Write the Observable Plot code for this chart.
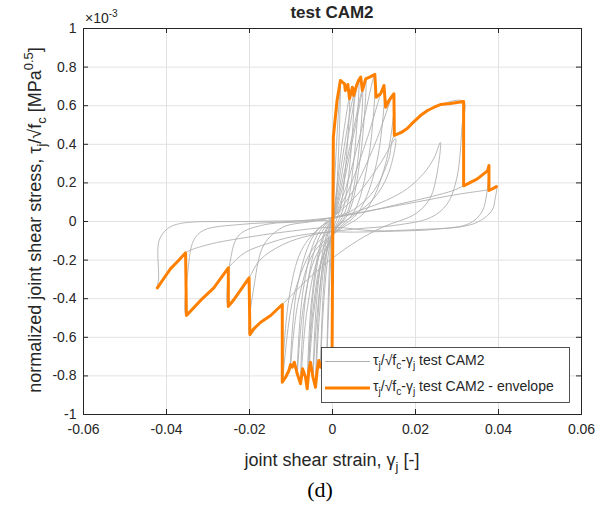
<!DOCTYPE html>
<html><head><meta charset="utf-8">
<script src="https://cdn.jsdelivr.net/npm/d3@7"></script>
<script src="https://cdn.jsdelivr.net/npm/@observablehq/plot@0.6"></script>
<style>body{margin:0;background:#fff;} svg{display:block} text{white-space:pre}</style>
</head><body><div id="chart"></div>
<script>
// ---- data (y values in units of 1e-3) ----
const xTicks = [-0.06, -0.04, -0.02, 0, 0.02, 0.04, 0.06];
const yTicks = [-1, -0.8, -0.6, -0.4, -0.2, 0, 0.2, 0.4, 0.6, 0.8, 1];
const titleText = "test CAM2";
const legendLabels = [" test CAM2", " test CAM2 - envelope"];
const captionText = "(d)";

const envelope = [[-0.0422,-0.344],[-0.0405,-0.29],[-0.039,-0.244],[-0.0371,-0.202],[-0.0354,-0.162],[-0.0352,-0.487],[-0.0318,-0.409],[-0.0286,-0.344],[-0.0251,-0.24],[-0.0251,-0.44],[-0.0236,-0.40],[-0.0222,-0.357],[-0.0201,-0.292],[-0.0199,-0.587],[-0.019,-0.556],[-0.0173,-0.522],[-0.0149,-0.487],[-0.0121,-0.43],[-0.0121,-0.833],[-0.0113,-0.807],[-0.0105,-0.772],[-0.0101,-0.741],[-0.0097,-0.755],[-0.0092,-0.729],[-0.0085,-0.789],[-0.0077,-0.841],[-0.0072,-0.763],[-0.0065,-0.807],[-0.0061,-0.867],[-0.0057,-0.772],[-0.0053,-0.729],[-0.0047,-0.807],[-0.0041,-0.859],[-0.0037,-0.772],[-0.0033,-0.72],[-0.0029,-0.755],[-0.0019,-0.71],[-0.001,-0.68],[-0.0001,-0.68],[0.0002,0.437],[0.0011,0.627],[0.0019,0.731],[0.0029,0.713],[0.0031,0.679],[0.0037,0.71],[0.0041,0.636],[0.0048,0.696],[0.0051,0.653],[0.0058,0.705],[0.0063,0.731],[0.0068,0.748],[0.0072,0.679],[0.008,0.739],[0.0092,0.751],[0.0102,0.762],[0.0105,0.644],[0.0116,0.662],[0.0124,0.705],[0.0128,0.592],[0.0136,0.627],[0.0148,0.662],[0.0149,0.446],[0.0165,0.46],[0.018,0.482],[0.0195,0.515],[0.0212,0.549],[0.0229,0.575],[0.0245,0.592],[0.026,0.606],[0.0284,0.611],[0.0316,0.622],[0.0316,0.185],[0.0349,0.221],[0.0374,0.264],[0.0377,0.29],[0.0377,0.161],[0.0385,0.169],[0.0395,0.181]];

const loop1 = [[0,0],[0.0006,0.25],[0.0013,0.52],[0.0019,0.70],[0.0015,0.38],[0.0008,0.1],[0,-0.04],[-0.0006,-0.28],[-0.0013,-0.66],[-0.0009,-0.32],[-0.0003,-0.06],[0.0003,0.04]];
const loop2 = [[0.0003,0.04],[0.0012,0.2],[0.0026,0.45],[0.0041,0.64],[0.0033,0.32],[0.0019,0.07],[0,-0.05],[-0.0013,-0.22],[-0.0023,-0.48],[-0.0029,-0.75],[-0.0022,-0.36],[-0.0009,-0.08],[0.0004,0.05]];
const loop3 = [[0.0004,0.05],[0.0015,0.2],[0.0033,0.45],[0.0051,0.65],[0.0042,0.3],[0.0025,0.06],[0.0002,-0.05],[-0.0018,-0.2],[-0.0032,-0.5],[-0.0041,-0.85],[-0.0032,-0.4],[-0.0014,-0.09],[0.0005,0.04]];
const loop4 = [[0.0005,0.04],[0.0019,0.2],[0.0041,0.48],[0.0063,0.73],[0.0052,0.33],[0.0032,0.06],[0.0004,-0.05],[-0.002,-0.2],[-0.0037,-0.48],[-0.0047,-0.80],[-0.0037,-0.38],[-0.0017,-0.09],[0.0006,0.04]];
const loop5 = [[0.0006,0.04],[0.0023,0.2],[0.0048,0.45],[0.0072,0.68],[0.006,0.3],[0.0036,0.05],[0.0005,-0.05],[-0.0025,-0.2],[-0.0045,-0.47],[-0.0057,-0.77],[-0.0046,-0.36],[-0.0021,-0.08],[0.0007,0.04]];
const loop6 = [[0.0007,0.04],[0.0027,0.2],[0.0054,0.48],[0.008,0.74],[0.0067,0.33],[0.004,0.05],[0.0006,-0.05],[-0.0027,-0.2],[-0.0049,-0.5],[-0.0061,-0.86],[-0.005,-0.4],[-0.0024,-0.08],[0.0008,0.04]];
const loop7 = [[0.0008,0.04],[0.0033,0.18],[0.0068,0.46],[0.0102,0.76],[0.0087,0.33],[0.0052,0.05],[0.0008,-0.05],[-0.0033,-0.18],[-0.0062,-0.47],[-0.0077,-0.84],[-0.0064,-0.38],[-0.0032,-0.08],[0.0009,0.04]];
const loop8 = [[0.0009,0.04],[0.0042,0.18],[0.0085,0.44],[0.0124,0.70],[0.0106,0.3],[0.0063,0.05],[0.001,-0.05],[-0.0038,-0.17],[-0.007,-0.44],[-0.0085,-0.79],[-0.0071,-0.36],[-0.0037,-0.07],[0.001,0.04]];
const loop9 = [[0.001,0.04],[0.005,0.16],[0.0102,0.4],[0.0148,0.66],[0.0128,0.3],[0.0078,0.05],[0.0012,-0.05],[-0.0045,-0.16],[-0.0083,-0.42],[-0.0101,-0.74],[-0.0085,-0.34],[-0.0045,-0.07],[0.0011,0.04]];
const loop10 = [[0.0011,0.04],[0.006,0.14],[0.0115,0.3],[0.0152,0.43],[0.0135,0.25],[0.01,0.12],[0.005,0.03],[0,-0.04],[-0.005,-0.15],[-0.0095,-0.4],[-0.0121,-0.83],[-0.0105,-0.4],[-0.0075,-0.15],[-0.003,-0.03],[0.001,0.02]];
const loop11 = [[0.001,0.02],[0.007,0.06],[0.013,0.11],[0.018,0.17],[0.022,0.25],[0.0245,0.33],[0.026,0.41],[0.0252,0.25],[0.0235,0.12],[0.02,0.04],[0.012,-0.03],[0.006,-0.1],[0,-0.19],[-0.006,-0.3],[-0.0121,-0.43],[-0.0149,-0.487],[-0.0173,-0.522],[-0.0199,-0.587],[-0.0188,-0.32],[-0.0165,-0.12],[-0.012,-0.03],[-0.005,0.0],[0,0.02]];
const loop12 = [[0,0.02],[0.005,0.06],[0.01,0.16],[0.0135,0.32],[0.0149,0.446],[0.018,0.482],[0.0212,0.549],[0.026,0.606],[0.0316,0.622],[0.0312,0.49],[0.030,0.23],[0.0276,0.09],[0.0236,0.02],[0.015,-0.02],[0.005,-0.04],[-0.005,-0.07],[-0.012,-0.12],[-0.0175,-0.2],[-0.0201,-0.292],[-0.0222,-0.357],[-0.0251,-0.44],[-0.0246,-0.2],[-0.0225,-0.07],[-0.016,-0.015],[-0.006,0.0],[0,0.02]];
const loop13 = [[0,0.02],[0.008,0.05],[0.016,0.09],[0.024,0.13],[0.029,0.16],[0.0316,0.185],[0.0349,0.221],[0.0374,0.264],[0.0377,0.29],[0.0372,0.15],[0.036,0.05],[0.033,-0.01],[0.025,-0.04],[0.015,-0.05],[0.005,-0.055],[-0.0013,-0.055],[-0.01,-0.08],[-0.0157,-0.115],[-0.021,-0.16],[-0.0251,-0.24],[-0.0286,-0.344],[-0.0318,-0.409],[-0.0352,-0.487],[-0.0348,-0.25],[-0.0335,-0.1],[-0.031,-0.045],[-0.022,-0.015],[-0.01,0.0],[0,0.02]];
const loop14 = [[0,0.02],[0.01,0.06],[0.02,0.1],[0.03,0.14],[0.0377,0.165],[0.0385,0.169],[0.0395,0.181],[0.0392,0.12],[0.0385,0.06],[0.0357,0.005],[0.0316,-0.025],[0.02,-0.042],[0.01,-0.048],[0,-0.03],[-0.01,-0.05],[-0.02,-0.08],[-0.03,-0.12],[-0.0354,-0.162],[-0.0371,-0.202],[-0.039,-0.244],[-0.0422,-0.344],[-0.0419,-0.295],[-0.0418,-0.1],[-0.0398,-0.038],[-0.0366,-0.01],[-0.02,0.0],[-0.0013,0.005]];

const loops = [loop1,loop2,loop3,loop4,loop5,loop6,loop7,loop8,loop9,loop10,loop11,loop12,loop13,loop14];
const grayRows = loops.flatMap((pts, i) => pts.map(([x, y]) => ({loop: i, x, y})));
const envRows = envelope.map(([x, y]) => ({x, y}));

// ---- layout ----
const W = 604, H = 509, mL = 83, mR = 23, mT = 28, mB = 95;
const innerW = W - mL - mR, innerH = H - mT - mB;
const ink = "#262626", gray = "#b0b0b0", orange = "#ff8000";
const font = "'Liberation Sans', Arial, Helvetica, sans-serif";

const chart = Plot.plot({
  width: W, height: H,
  marginLeft: mL, marginRight: mR, marginTop: mT, marginBottom: mB,
  x: {domain: [-0.06, 0.06]},
  y: {domain: [-1, 1]},
  style: {fontFamily: font, fontSize: "14px", color: ink, background: "#fff"},
  marks: [
    Plot.gridX(xTicks, {stroke: "#e2e2e2", strokeOpacity: 1}),
    Plot.gridY(yTicks, {stroke: "#e2e2e2", strokeOpacity: 1}),
    Plot.line(grayRows, {x: "x", y: "y", z: "loop", stroke: gray, strokeWidth: 0.9, curve: "catmull-rom"}),
    Plot.line(envRows, {x: "x", y: "y", stroke: orange, strokeWidth: 3, strokeLinejoin: "round"}),
    Plot.frame({stroke: ink, strokeWidth: 1}),
    Plot.tickX(xTicks, {x: d => d, insetTop: innerH - 5, stroke: ink}),
    Plot.tickX(xTicks, {x: d => d, insetBottom: innerH - 5, stroke: ink}),
    Plot.tickY(yTicks, {y: d => d, insetRight: innerW - 5, stroke: ink}),
    Plot.tickY(yTicks, {y: d => d, insetLeft: innerW - 5, stroke: ink}),
    Plot.axisX(xTicks, {tickSize: 0, tickPadding: 10, tickFormat: d => String(d), label: null, fontSize: 14}),
    Plot.axisY(yTicks, {tickSize: 0, tickPadding: 7, tickFormat: d => String(d), label: null, fontSize: 14})
  ]
});
document.getElementById("chart").appendChild(chart);

// ---- rich text helpers ----
const svg = d3.select(chart);
function rich(sel, parts, fs) {
  let shift = 0;
  for (const [t, k] of parts) {
    const target = k === "sub" ? 0.3 * fs : k === "sup" ? -0.42 * fs : 0;
    sel.append("tspan").attr("dy", target - shift).attr("font-size", k === "n" ? fs : 0.72 * fs).text(t);
    shift = target;
  }
}
function label(x, y, fs, parts, opts = {}) {
  const t = svg.append("text").attr("x", x).attr("y", y).attr("font-family", font)
    .attr("fill", ink).attr("font-size", fs).attr("text-anchor", opts.anchor || "start");
  if (opts.transform) t.attr("transform", opts.transform).attr("x", 0).attr("y", 0);
  if (opts.weight) t.attr("font-weight", opts.weight);
  rich(t, parts, fs);
  return t;
}

// title
label(mL + innerW / 2, 18, 17, [[titleText, "n"]], {anchor: "middle", weight: "bold"});
// exponent
label(85, 23, 14, [["×10", "n"], ["-3", "sup"]]);
// x label
label(mL + innerW / 2, 466, 18, [["joint shear strain, ", "n"], ["γ", "n"], ["j", "sub"], [" [-]", "n"]], {anchor: "middle"});
// y label
label(0, 0, 18, [["normalized joint shear stress, ", "n"], ["τ", "n"], ["j", "sub"], ["/√", "n"], ["f", "n"], ["c", "sub"], [" [MPa", "n"], ["0.5", "sup"], ["]", "n"]],
  {anchor: "middle", transform: "translate(41,220) rotate(-90)"});

// legend
const lg = svg.append("g");
lg.append("rect").attr("x", 321.5).attr("y", 347.5).attr("width", 248).attr("height", 55)
  .attr("fill", "#fff").attr("stroke", ink).attr("stroke-width", 0.8);
lg.append("line").attr("x1", 325).attr("x2", 370).attr("y1", 361.5).attr("y2", 361.5).attr("stroke", gray).attr("stroke-width", 1);
lg.append("line").attr("x1", 325).attr("x2", 370).attr("y1", 388).attr("y2", 388).attr("stroke", orange).attr("stroke-width", 3);
const lp = [["τ", "n"], ["j", "sub"], ["/√", "n"], ["f", "n"], ["c", "sub"], ["-γ", "n"], ["j", "sub"]];
label(373, 365, 14, [...lp, [legendLabels[0], "n"]]);
label(373, 391, 14, [...lp, [legendLabels[1], "n"]]);

// caption
svg.append("text").attr("x", 320).attr("y", 497).attr("text-anchor", "middle")
  .attr("font-family", "'Liberation Serif', 'Times New Roman', serif").attr("font-size", 22).attr("fill", "#000").text(captionText);
</script>
</body></html>
